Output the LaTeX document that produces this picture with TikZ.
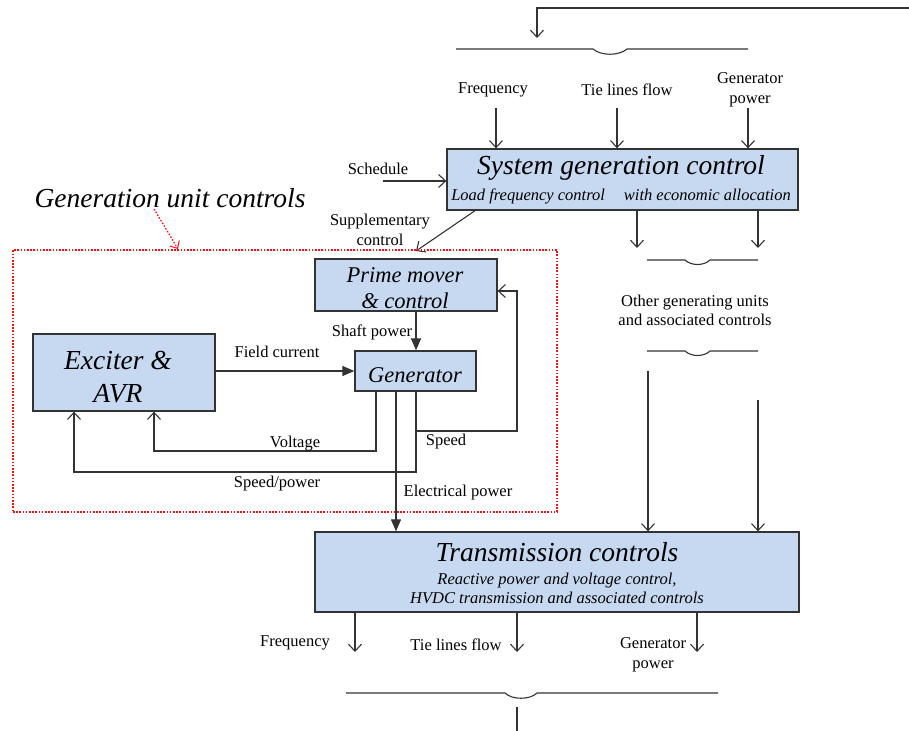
\documentclass[tikz,border=0pt]{standalone}
\usepackage{fontspec}
\setmainfont{Liberation Serif}
\usetikzlibrary{arrows.meta}
\definecolor{boxfill}{HTML}{C6D9F1}
\definecolor{ink}{HTML}{333333}
\definecolor{dotred}{HTML}{E8161B}
\begin{document}
\begin{tikzpicture}[x=1pt,y=-1pt,
  lbl/.style={inner sep=0pt,align=center,font=\fontsize{16.5}{20}\selectfont},
  ttl/.style={inner sep=0pt,align=center,font=\fontsize{27.5}{33}\selectfont\itshape},
  sub/.style={inner sep=0pt,align=center,font=\fontsize{16.5}{19}\selectfont\itshape},
  blk/.style={draw=ink,line width=1.3pt,fill=boxfill,inner sep=0pt},
  wire/.style={draw=ink,line width=1.1pt},
  oarr/.style={wire,-{Straight Barb[length=7pt,width=13pt,line width=1.1pt]}},
  farr/.style={wire,-{Triangle[length=12pt,width=10pt]}},
  reddot/.style={draw=dotred,line width=1.2pt,dash pattern=on 1.6pt off 1.6pt},
]
\useasboundingbox (0,0) rectangle (909,730);

% ---------- system generation control ----------
\node[blk,minimum width=351pt,minimum height=61pt] (sgc) at (622.5,179.5) {};
\node[ttl] (sgcT) at (621,168) {System generation control};
\node[sub] (sgcS) at (621,196) {Load frequency control\hspace{0.9em} with economic allocation};

% top bus with crossing
\coordinate (tR) at (912,8);
\coordinate (tT) at (537,38);
\draw[oarr] (tR) -| (tT);
\coordinate (b1L) at (456,49);
\coordinate (b1R) at (748,49);
\draw[wire] (b1L) -- (593,49) .. controls (601,56) and (619,56) .. (627,49) -- (b1R);

% measured inputs
\node[lbl] (inF) at (493,90) {Frequency};
\node[lbl] (inT) at (627,90) {Tie lines flow};
\node[lbl] (inG) at (750,90) {Generator\\power};
\coordinate (aF) at (496,108);
\coordinate (aT) at (617,108);
\coordinate (aG) at (748,108);
\draw[oarr] (aF) -- (aF |- sgc.north);
\draw[oarr] (aT) -- (aT |- sgc.north);
\draw[oarr] (aG) -- (aG |- sgc.north);

% schedule
\node[lbl] (sch) at (378,169) {Schedule};
\coordinate (schA) at (383,181);
\draw[oarr] (schA) -- (schA -| sgc.west);

% supplementary control
\node[lbl] (sup) at (380,230) {Supplementary\\control};
\coordinate (supA) at (476,210);
\coordinate (supB) at (416,251);
\draw[oarr] (supA) -- (supB);

% outputs to other units
\coordinate (o1) at (637,248);
\coordinate (o2) at (758,248);
\draw[oarr] (o1 |- sgc.south) -- (o1);
\draw[oarr] (o2 |- sgc.south) -- (o2);
\draw[wire] (647,260) -- (685,260) .. controls (691,266) and (704,266) .. (710,260) -- (758,260);
\node[lbl,font=\fontsize{16.5}{19}\selectfont] (oth) at (695,310.5) {Other generating units\\and associated controls};
\draw[wire] (647,351) -- (685,351) .. controls (691,357) and (704,357) .. (710,351) -- (758,351);

% ---------- transmission controls ----------
\node[blk,minimum width=484pt,minimum height=80pt] (tc) at (557,572) {};
\node[ttl] (tcT) at (557,552) {Transmission controls};
\node[sub] (tcS) at (557,588.5) {Reactive power and voltage control,\\HVDC transmission and associated controls};

\coordinate (u1) at (648,371);
\coordinate (u2) at (758,400);
\draw[oarr] (u1) -- (u1 |- tc.north);
\draw[oarr] (u2) -- (u2 |- tc.north);

% outputs of transmission controls
\coordinate (q1) at (355,652);
\coordinate (q2) at (517,652);
\coordinate (q3) at (697,652);
\draw[oarr] (q1 |- tc.south) -- (q1);
\draw[oarr] (q2 |- tc.south) -- (q2);
\draw[oarr] (q3 |- tc.south) -- (q3);
\node[lbl] (outF) at (295,643) {Frequency};
\node[lbl] (outT) at (456,645) {Tie lines flow};
\node[lbl] (outG) at (653,655) {Generator\\power};
\draw[wire] (346,693) -- (505,693) .. controls (512,700) and (530,700) .. (537,693) -- (718,693);
\coordinate (btA) at (517,707);
\coordinate (btB) at (517,733);
\draw[wire] (btA) -- (btB);

% ---------- generation unit controls ----------
\node[reddot,minimum width=544pt,minimum height=262pt,inner sep=0pt] (guc) at (285,381) {};
\node[ttl] (gucT) at (170,198) {Generation unit controls};
\coordinate (rA) at (154,209);
\coordinate (rB) at (178,249);
\draw[reddot,-{Straight Barb[length=6pt,width=11pt,line width=1pt]}] (rA) -- (rB);

\node[blk,minimum width=182pt,minimum height=52pt] (pm) at (406,285) {};
\node[ttl,font=\fontsize{22.5}{26}\selectfont\itshape] (pmT) at (405,288) {Prime mover\\\& control};

\node[blk,minimum width=121pt,minimum height=40pt] (gen) at (415.5,371) {};
\node[ttl,font=\fontsize{22.5}{26}\selectfont\itshape] (genT) at (415,375) {Generator};

\node[blk,minimum width=182pt,minimum height=77pt] (exc) at (124,372.5) {};
\node[ttl,font=\fontsize{27.5}{33}\selectfont\itshape] (excT) at (118,377.5) {Exciter \&\\AVR};

% shaft power
\coordinate (sh) at (416,0);
\draw[farr] (sh |- pm.south) -- (sh |- gen.north);
\node[lbl] (shT) at (372,332) {Shaft power};

% field current
\draw[farr] (gen.west -| exc.east) -- (gen.west);
\node[lbl] (fcT) at (277,352) {Field current};

% voltage feedback
\coordinate (v1) at (376,451);
\coordinate (v2) at (154,451);
\draw[oarr] (v1 |- gen.south) -- (v1) -- (v2) -- (v2 |- exc.south);
\node[lbl] (vT) at (295,444) {Voltage};

% speed/power feedback
\coordinate (s1) at (416,472);
\coordinate (s2) at (74,472);
\draw[oarr] (s1 |- gen.south) -- (s1) -- (s2) -- (s2 |- exc.south);
\node[lbl] (spT) at (277,484) {Speed/power};

% speed feedback to prime mover
\coordinate (p1) at (416,431);
\coordinate (p2) at (517,431);
\coordinate (p3) at (517,291);
\draw[oarr] (p1) -- (p2) -- (p3) -- (p3 -| pm.east);
\node[lbl] (spdT) at (446,442) {Speed};

% electrical power
\coordinate (e1) at (396,0);
\draw[farr] (e1 |- gen.south) -- (e1 |- tc.north);
\node[lbl] (epT) at (458,493) {Electrical power};
\end{tikzpicture}
\end{document}
